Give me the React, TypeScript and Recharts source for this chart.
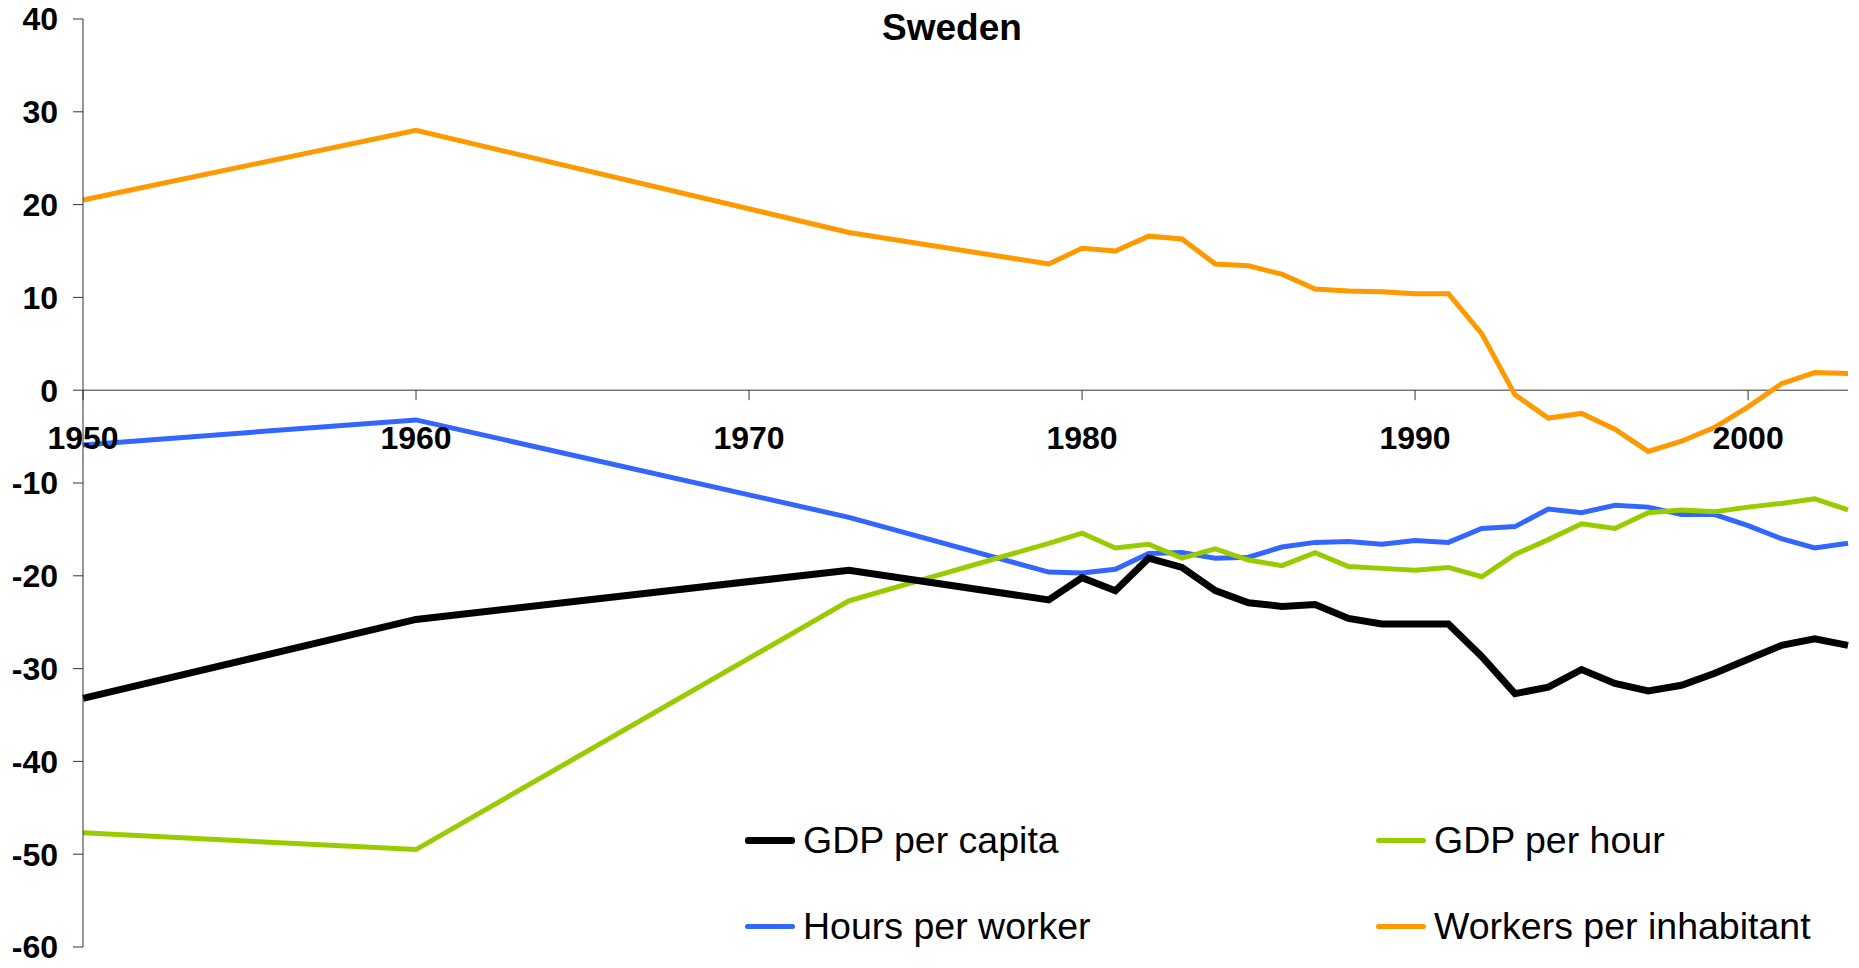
import { LineChart, Line, XAxis, YAxis, ReferenceLine, ReferenceDot, Legend } from 'recharts';

const years = [1950, 1960, 1973, 1979, 1980, 1981, 1982, 1983, 1984, 1985, 1986, 1987, 1988, 1989, 1990, 1991, 1992, 1993, 1994, 1995, 1996, 1997, 1998, 1999, 2000, 2001, 2002, 2003];

const gdpPerCapita = [-33.2, -24.7, -19.4, -22.6, -20.2, -21.6, -18.1, -19.1, -21.6, -22.9, -23.3, -23.1, -24.6, -25.2, -25.2, -25.2, -28.7, -32.7, -32.0, -30.1, -31.6, -32.4, -31.8, -30.5, -29.0, -27.5, -26.8, -27.5];
const gdpPerHour = [-47.7, -49.5, -22.7, -16.5, -15.4, -17.0, -16.6, -18.1, -17.1, -18.3, -18.9, -17.5, -19.0, -19.2, -19.4, -19.1, -20.1, -17.7, -16.1, -14.4, -14.9, -13.2, -12.9, -13.1, -12.6, -12.2, -11.7, -12.9];
const hoursPerWorker = [-5.9, -3.2, -13.7, -19.6, -19.7, -19.3, -17.6, -17.5, -18.1, -18.0, -16.9, -16.4, -16.3, -16.6, -16.2, -16.4, -14.9, -14.7, -12.8, -13.2, -12.4, -12.6, -13.4, -13.4, -14.6, -16.0, -17.0, -16.5];
const workersPerInhabitant = [20.5, 28.0, 17.0, 13.6, 15.3, 15.0, 16.6, 16.3, 13.6, 13.4, 12.5, 10.9, 10.7, 10.6, 10.4, 10.4, 6.1, -0.5, -3.0, -2.5, -4.2, -6.6, -5.5, -4.0, -1.8, 0.7, 1.9, 1.8];

const xTicks = [1950, 1960, 1970, 1980, 1990, 2000];
const yTicks = [-60, -50, -40, -30, -20, -10, 0, 10, 20, 30, 40];

const data = years.map((year, i) => ({
  year,
  capita: gdpPerCapita[i],
  hour: gdpPerHour[i],
  hours: hoursPerWorker[i],
  workers: workersPerInhabitant[i],
}));

// legend order is row by row
const series = [
  { key: 'capita', name: 'GDP per capita', color: '#000000', width: 7 },
  { key: 'hour', name: 'GDP per hour', color: '#99CC00', width: 5 },
  { key: 'hours', name: 'Hours per worker', color: '#3366FF', width: 5 },
  { key: 'workers', name: 'Workers per inhabitant', color: '#FF9900', width: 5 },
];

const FONT = '"Liberation Sans", Arial, sans-serif';

const YearTick = ({ cx, cy, label }: any) => (
  <g>
    <line x1={cx} y1={cy} x2={cx} y2={cy + 10} stroke="#333" strokeWidth={1} />
    <text x={cx} y={cy + 59} textAnchor="middle" fontFamily={FONT} fontWeight="bold" fontSize={32} fill="#000">
      {label}
    </text>
  </g>
);

const LegendGrid = () => (
  <div style={{ display: 'grid', gridTemplateColumns: '631px 479px', gridAutoRows: '86px', fontFamily: FONT, fontSize: 37.5, color: '#000' }}>
    {series.map((s) => (
      <div key={s.key} style={{ display: 'flex', alignItems: 'center' }}>
        <span style={{ display: 'inline-block', width: 50, height: s.width, background: s.color, borderRadius: 3, marginRight: 8 }} />
        <span>{s.name}</span>
      </div>
    ))}
  </div>
);

const drawOrder = ['workers', 'hours', 'hour', 'capita'];

export default function App() {
  return (
    <div style={{ position: 'relative', width: 1851, height: 968, marginTop: -8 }}>
      <div style={{ position: 'absolute', top: 9, left: 944, transform: 'translateX(-50%)', fontFamily: FONT, fontWeight: 'bold', fontSize: 37, lineHeight: 1, zIndex: 2 }}>
        Sweden
      </div>
      <LineChart width={1851} height={968} data={data} margin={{ top: 19, right: 11, left: 0, bottom: 21 }}>
        <XAxis type="number" dataKey="year" domain={[1950, 2003]} hide />
        <YAxis
          width={75}
          domain={[-60, 40]}
          ticks={yTicks}
          interval={0}
          tickSize={10}
          tickMargin={15}
          axisLine={{ stroke: '#333' }}
          tickLine={{ stroke: '#333' }}
          tick={{ fill: '#000', fontSize: 32, fontWeight: 'bold', fontFamily: FONT }}
        />
        <ReferenceLine y={0} stroke="#333" strokeWidth={1} />
        {xTicks.map((yr) => (
          <ReferenceDot key={yr} x={yr} y={0} r={0} shape={(p: any) => <YearTick {...p} label={String(yr)} />} />
        ))}
        {drawOrder.map((k) => {
          const s = series.find((d) => d.key === k)!;
          return (
            <Line
              key={s.key}
              type="linear"
              dataKey={s.key}
              name={s.name}
              stroke={s.color}
              strokeWidth={s.width}
              dot={false}
              isAnimationActive={false}
            />
          );
        })}
        <Legend
          layout="horizontal"
          verticalAlign="middle"
          align="center"
          wrapperStyle={{ left: 737, top: 797, width: 1110 }}
          content={() => <LegendGrid />}
        />
      </LineChart>
    </div>
  );
}
